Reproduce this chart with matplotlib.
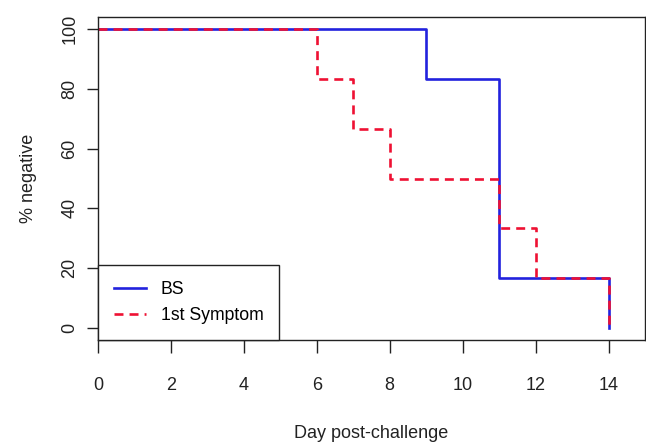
import matplotlib
matplotlib.use("Agg")
import matplotlib.pyplot as plt

plt.rcParams['font.family'] = ['Liberation Sans', 'DejaVu Sans']

days_bs = [0, 9, 11, 14, 14]
pct_bs = [100, 83.33, 16.67, 16.67, 0]
days_sym = [0, 6, 7, 8, 11, 12, 14, 14]
pct_sym = [100, 83.33, 66.67, 50, 33.33, 16.67, 16.67, 0]
xticks = [0, 2, 4, 6, 8, 10, 12, 14]
yticks = [0, 20, 40, 60, 80, 100]

fig = plt.figure(figsize=(6.46, 4.44), dpi=100)
ax = fig.add_axes([98/646, 1-340/444, (645-98)/646, (340-17)/444])

ax.step(days_bs, pct_bs, where='post', color='#2222dd', lw=1.9, label='BS')
l2, = ax.step(days_sym, pct_sym, where='post', color='#ee1133', lw=1.9, label='1st Symptom')
l2.set_dashes([3.4, 2.3])

ax.set_xlim(0, 15)
ax.set_ylim(-4, 104)
ax.set_xticks(xticks)
ax.set_yticks(yticks)
ax.set_yticklabels([str(v) for v in yticks], rotation=90, va='center')
ax.tick_params(axis='x', length=9, width=1, labelsize=13, pad=18, colors='#222222')
ax.tick_params(axis='y', length=8, width=1, labelsize=13, pad=6, colors='#222222')
for s in ax.spines.values():
    s.set_linewidth(1)
    s.set_color('#222222')

ax.set_xlabel('Day post-challenge', fontsize=13, labelpad=22, color='#222222')
ax.set_ylabel('% negative', fontsize=13, labelpad=18, color='#222222')

leg = ax.legend(loc='lower left', bbox_to_anchor=(0, 0), borderaxespad=0,
                fancybox=False, edgecolor='#222222', framealpha=1, fontsize=12.7,
                handlelength=1.8, handletextpad=0.85, labelspacing=0.5,
                borderpad=0.9)
leg.get_frame().set_linewidth(1)

fig.savefig('out.png', dpi=100)
